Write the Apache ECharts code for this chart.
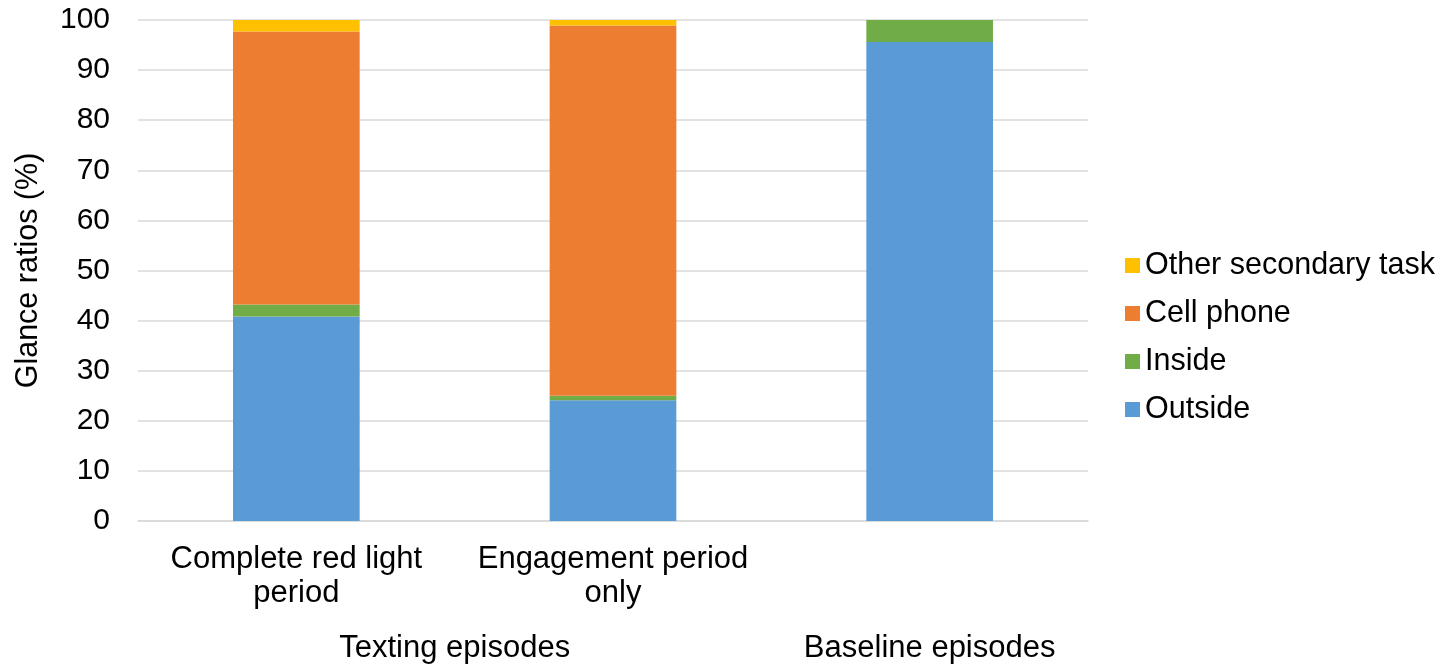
<!DOCTYPE html>
<html>
<head>
<meta charset="utf-8">
<script src="https://cdn.jsdelivr.net/npm/echarts@6/dist/echarts.min.js"></script>
<style>
  html, body { margin: 0; padding: 0; background: #fff; }
  #chart { width: 1452px; height: 664px; }
</style>
</head>
<body>
<div id="chart"></div>
<script>
// Glance ratios by episode type (stacked to 100 %)
const categories = ['Complete red light\nperiod', 'Engagement period\nonly', ''];
const groupLabels = ['Texting episodes', 'Baseline episodes'];
const outside = [40.8, 24.1, 95.6];
const inside = [2.4, 0.9, 4.4];
const cellPhone = [54.5, 73.9, 0];
const otherTask = [2.3, 1.1, 0];
const yTicks = [0, 10, 20, 30, 40, 50, 60, 70, 80, 90, 100];

const FONT = "'Liberation Sans', Arial, sans-serif";
const GRID_COLOR = '#D9D9D9';

const chart = echarts.init(document.getElementById('chart'));

function barSeries(name, data, color) {
  return {
    name: name,
    type: 'bar',
    stack: 'total',
    data: data,
    xAxisIndex: 0,
    barCategoryGap: '60%',
    itemStyle: { color: color },
    emphasis: { disabled: true }
  };
}

chart.setOption({
  animation: false,
  backgroundColor: '#ffffff',
  textStyle: { fontFamily: FONT },
  grid: { left: 138, right: 364, top: 20, bottom: 143, outerBoundsMode: 'none', containLabel: false },
  legend: {
    orient: 'vertical',
    left: 1120,
    top: 245,
    itemWidth: 15,
    itemHeight: 15,
    itemGap: 17,
    icon: 'rect',
    data: ['Other secondary task', 'Cell phone', 'Inside', 'Outside'],
    textStyle: { fontFamily: FONT, fontSize: 30.5, color: '#000', lineHeight: 30 }
  },
  xAxis: [
    {
      type: 'category',
      data: categories,
      position: 'bottom',
      axisLine: { show: true, lineStyle: { color: GRID_COLOR, width: 1.5 } },
      axisTick: { show: false },
      axisLabel: {
        interval: 0,
        margin: 21,
        fontFamily: FONT,
        fontSize: 31,
        lineHeight: 34,
        color: '#000'
      }
    },
    {
      // group labels spanning the category groups
      type: 'value',
      position: 'bottom',
      gridIndex: 0,
      min: 0,
      max: 3,
      interval: 0.5,
      axisLine: { show: false },
      axisTick: { show: false },
      splitLine: { show: false },
      axisLabel: {
        margin: 110,
        fontFamily: FONT,
        fontSize: 31,
        lineHeight: 34,
        color: '#000',
        showMinLabel: false,
        showMaxLabel: false,
        formatter: function (v) {
          if (Math.abs(v - 1) < 1e-6) return groupLabels[0];
          if (Math.abs(v - 2.5) < 1e-6) return groupLabels[1];
          return '';
        }
      }
    }
  ],
  yAxis: {
    type: 'value',
    min: yTicks[0],
    max: yTicks[yTicks.length - 1],
    interval: yTicks[1] - yTicks[0],
    name: 'Glance ratios (%)',
    nameLocation: 'middle',
    nameGap: 94,
    nameTextStyle: { fontFamily: FONT, fontSize: 30.5, color: '#000' },
    axisLine: { show: false },
    axisTick: { show: false },
    axisLabel: { margin: 28, fontFamily: FONT, fontSize: 30, color: '#000', padding: [3, 0, 0, 0] },
    splitLine: { lineStyle: { color: GRID_COLOR, width: 1.5 } }
  },
  series: [
    barSeries('Outside', outside, '#5B9BD5'),
    barSeries('Inside', inside, '#70AD47'),
    barSeries('Cell phone', cellPhone, '#ED7D31'),
    barSeries('Other secondary task', otherTask, '#FFC000')
  ]
});
</script>
</body>
</html>
